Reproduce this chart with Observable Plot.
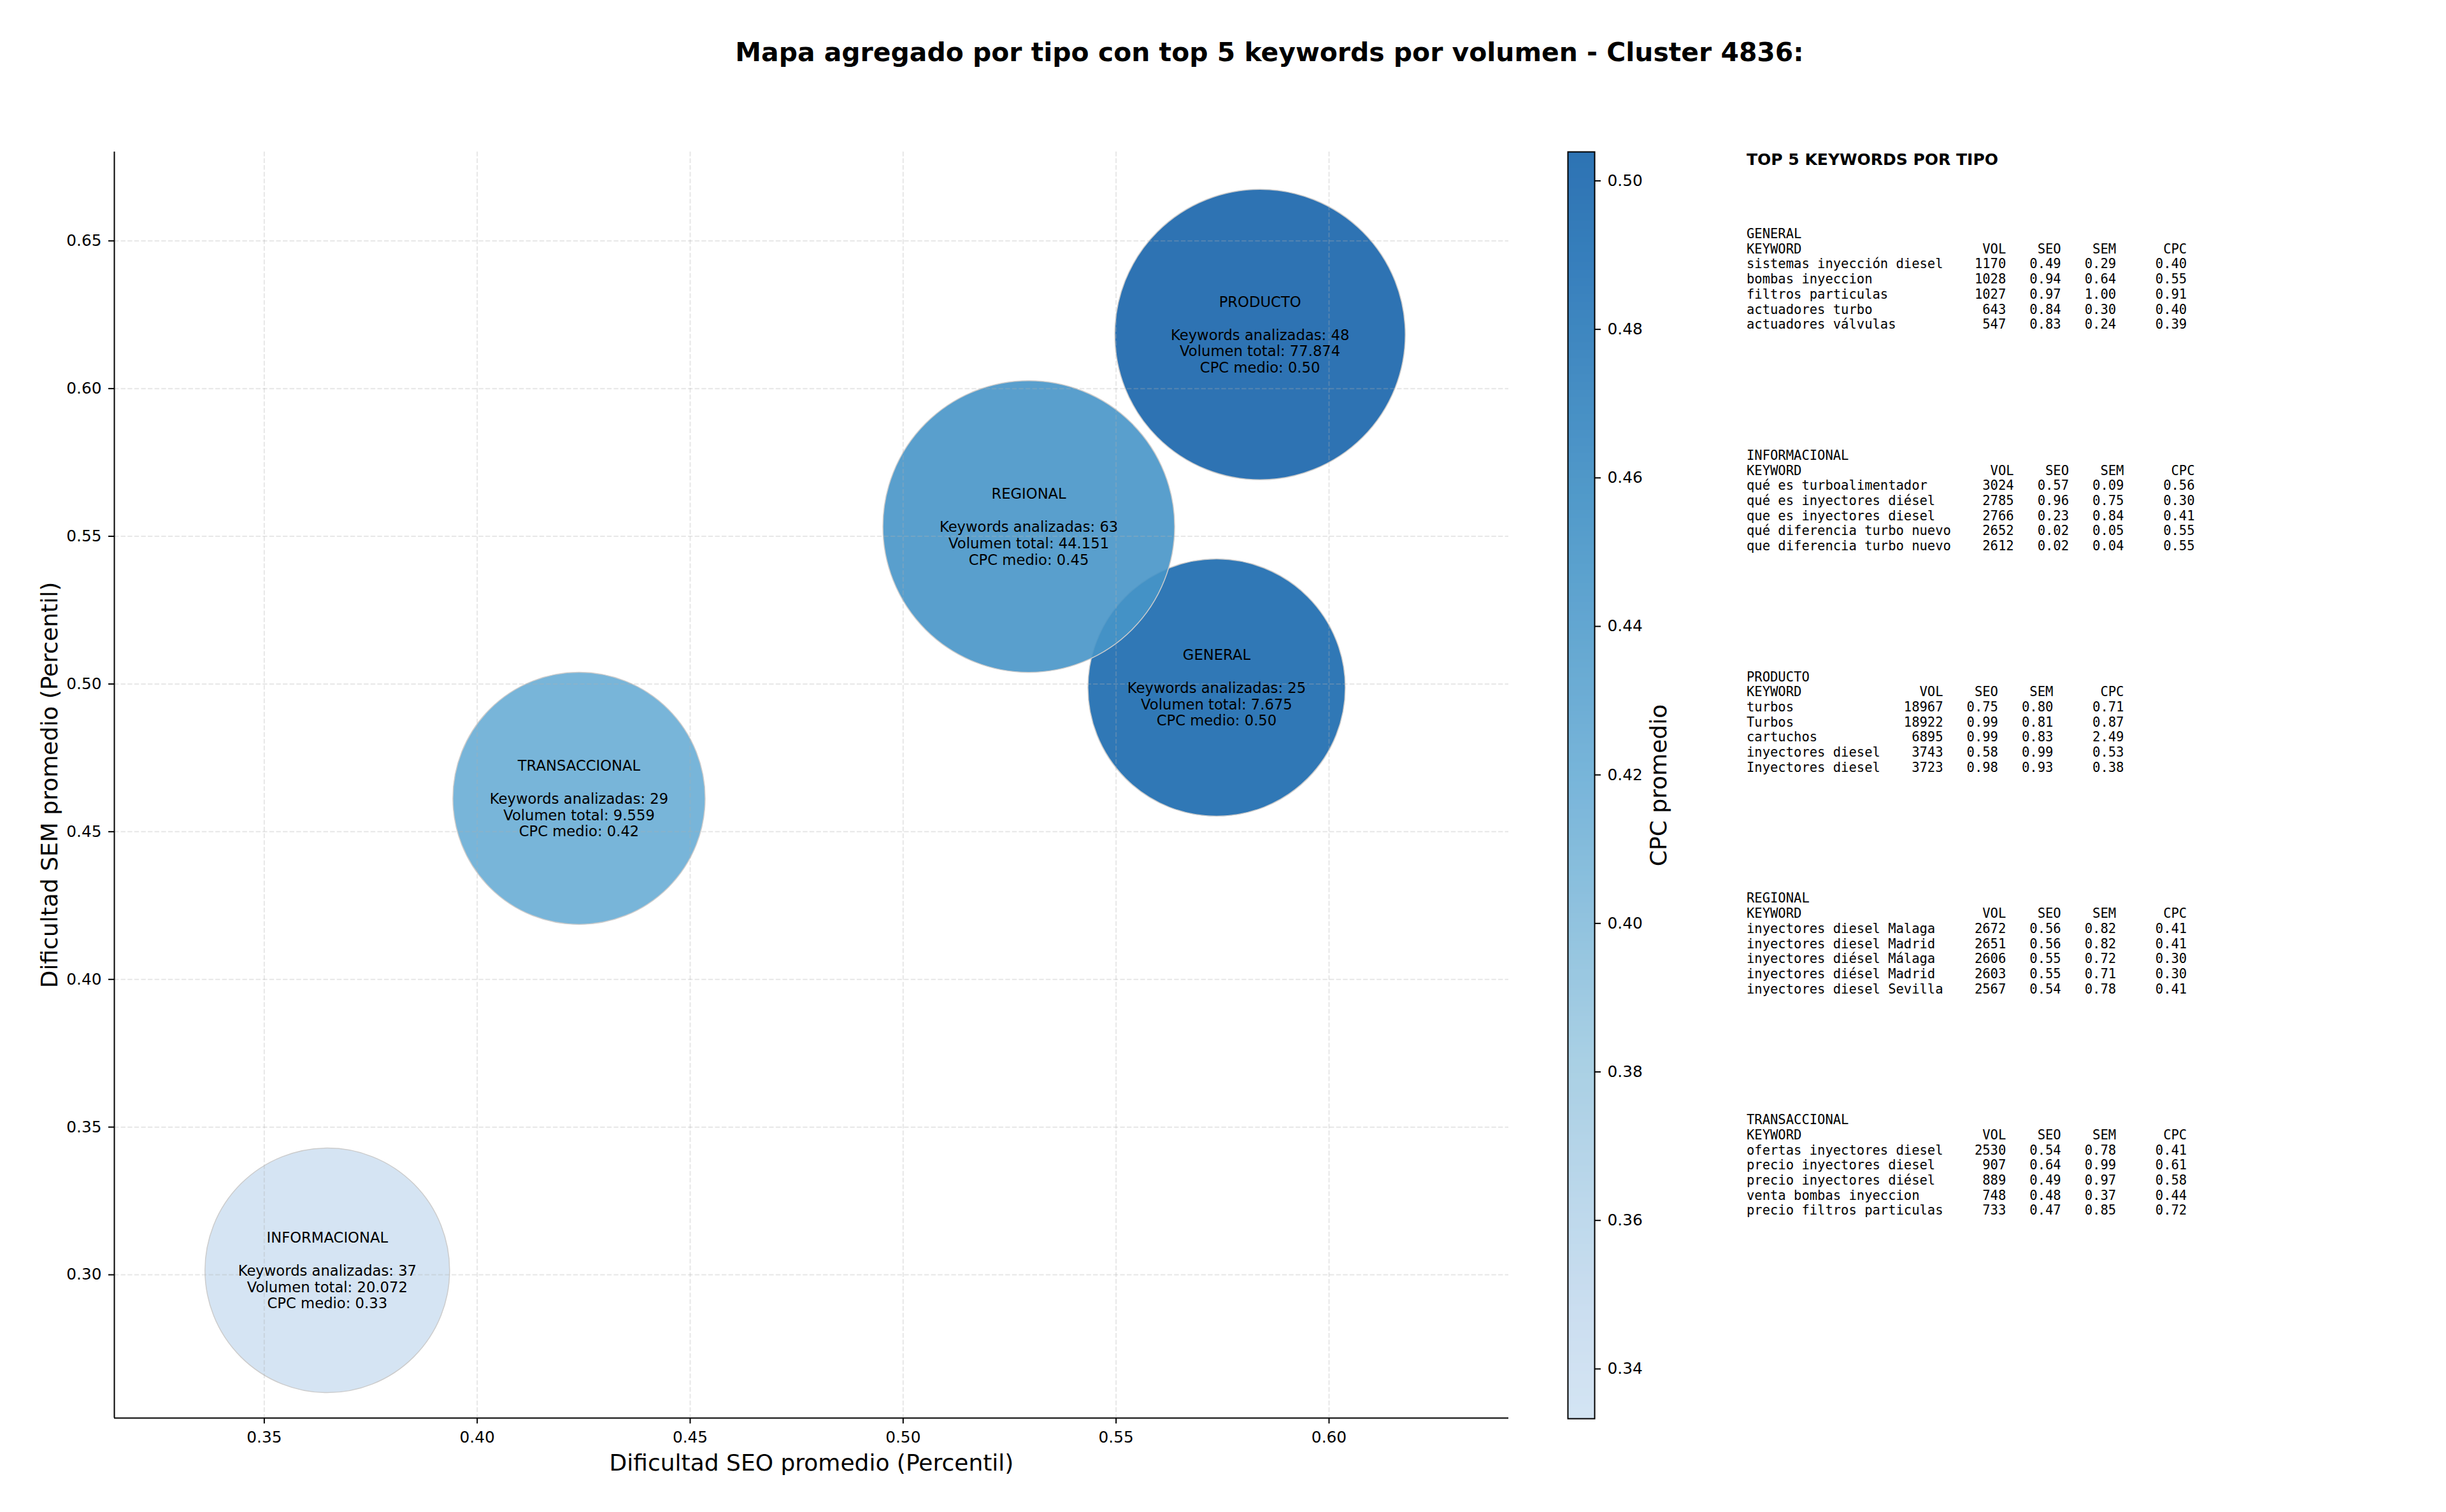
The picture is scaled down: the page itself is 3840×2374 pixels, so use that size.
<!DOCTYPE html>
<html>
<head>
<meta charset="utf-8">
<script src="https://cdn.jsdelivr.net/npm/d3@7"></script>
<script src="https://cdn.jsdelivr.net/npm/@observablehq/plot@0.6"></script>
<style>
  html, body { margin: 0; padding: 0; background: #ffffff; }
  #fig { position: relative; width: 3840px; height: 2374px; overflow: hidden; font-family: "DejaVu Sans", sans-serif; color: #000; }
  .abs { position: absolute; }
  #title { top: 62px; left: 1993px; transform: translateX(-50%); font-weight: bold; font-size: 40.9px; line-height: 40.9px; white-space: nowrap; }
  #panelTitle { left: 2742px; top: 238px; font-weight: bold; font-size: 25px; line-height: 25px; white-space: nowrap; }
  .block { left: 2742px; font-family: "DejaVu Sans Mono", monospace; font-size: 20.5px; line-height: 23.7px; white-space: pre; }
</style>
</head>
<body>
<div id="fig">
  <div id="title" class="abs">Mapa agregado por tipo con top 5 keywords por volumen - Cluster 4836:</div>
  <div id="main" class="abs" style="left:0;top:0"></div>
  <div id="cbar" class="abs" style="left:2451px;top:0"></div>
  <div id="panelTitle" class="abs">TOP 5 KEYWORDS POR TIPO</div>
  <div id="panel"></div>
</div>
<script>
// ---------- Aggregated data per type ----------
const tipos = ["GENERAL", "INFORMACIONAL", "PRODUCTO", "REGIONAL", "TRANSACCIONAL"];
const seoMedio = [0.5736, 0.3648, 0.5838, 0.5295, 0.4239];
const semMedio = [0.4988, 0.3015, 0.6183, 0.5533, 0.4613];
const keywordsAnalizadas = [25, 37, 48, 63, 29];
const volumenTotal = [7675, 20072, 77874, 44151, 9559];
const cpcMedio = [0.499, 0.3333, 0.5039, 0.45, 0.42];

// ---------- Tick labels ----------
const xTicks = [0.35, 0.40, 0.45, 0.50, 0.55, 0.60];
const yTicks = [0.30, 0.35, 0.40, 0.45, 0.50, 0.55, 0.60, 0.65];
const cTicks = [0.34, 0.36, 0.38, 0.40, 0.42, 0.44, 0.46, 0.48, 0.50];

// ---------- Top 5 keywords per type: [keyword, VOL, SEO, SEM, CPC] ----------
const topGeneral = [
  ["sistemas inyección diesel", 1170, 0.49, 0.29, 0.40],
  ["bombas inyeccion", 1028, 0.94, 0.64, 0.55],
  ["filtros particulas", 1027, 0.97, 1.00, 0.91],
  ["actuadores turbo", 643, 0.84, 0.30, 0.40],
  ["actuadores válvulas", 547, 0.83, 0.24, 0.39]
];
const topInformacional = [
  ["qué es turboalimentador", 3024, 0.57, 0.09, 0.56],
  ["qué es inyectores diésel", 2785, 0.96, 0.75, 0.30],
  ["que es inyectores diesel", 2766, 0.23, 0.84, 0.41],
  ["qué diferencia turbo nuevo", 2652, 0.02, 0.05, 0.55],
  ["que diferencia turbo nuevo", 2612, 0.02, 0.04, 0.55]
];
const topProducto = [
  ["turbos", 18967, 0.75, 0.80, 0.71],
  ["Turbos", 18922, 0.99, 0.81, 0.87],
  ["cartuchos", 6895, 0.99, 0.83, 2.49],
  ["inyectores diesel", 3743, 0.58, 0.99, 0.53],
  ["Inyectores diesel", 3723, 0.98, 0.93, 0.38]
];
const topRegional = [
  ["inyectores diesel Malaga", 2672, 0.56, 0.82, 0.41],
  ["inyectores diesel Madrid", 2651, 0.56, 0.82, 0.41],
  ["inyectores diésel Málaga", 2606, 0.55, 0.72, 0.30],
  ["inyectores diésel Madrid", 2603, 0.55, 0.71, 0.30],
  ["inyectores diesel Sevilla", 2567, 0.54, 0.78, 0.41]
];
const topTransaccional = [
  ["ofertas inyectores diesel", 2530, 0.54, 0.78, 0.41],
  ["precio inyectores diesel", 907, 0.64, 0.99, 0.61],
  ["precio inyectores diésel", 889, 0.49, 0.97, 0.58],
  ["venta bombas inyeccion", 748, 0.48, 0.37, 0.44],
  ["precio filtros particulas", 733, 0.47, 0.85, 0.72]
];

// ---------- Styles (not data) ----------
const bubbleRadius = { GENERAL: 202, INFORMACIONAL: 192, PRODUCTO: 228, REGIONAL: 229, TRANSACCIONAL: 198 };
const TICK_FS = 24.8, LABEL_FS = 36, BUBBLE_FS = 22.7;

// ---------- Build table ----------
const rows = tipos.map((t, i) => ({
  tipo: t, seo: seoMedio[i], sem: semMedio[i], n: keywordsAnalizadas[i], vol: volumenTotal[i], cpc: cpcMedio[i]
}));
const esFmt = d3.formatLocale({ decimal: ",", thousands: ".", grouping: [3], currency: ["", " €"] }).format(",d");

const xDomain = [d3.min(seoMedio) - 0.05, d3.max(seoMedio) * 1.1];
const yDomain = [d3.min(semMedio) - 0.05, d3.max(semMedio) * 1.1];
const cDomain = d3.extent(cpcMedio);

const mplBlues = d3.piecewise(d3.interpolateRgb, ["#f7fbff", "#deebf7", "#c6dbef", "#9ecae1", "#6baed6", "#4292c6", "#2171b5", "#08519c", "#08306b"]);
const colorScale = { type: "linear", domain: cDomain, interpolate: t => mplBlues(0.2 + 0.6 * t) };

const gridStyle = { stroke: "#b0b0b0", strokeOpacity: 0.3, strokeWidth: 2, strokeDasharray: "7.4,3.2" };

const main = Plot.plot({
  width: 2420, height: 2374,
  marginLeft: 179, marginRight: 52, marginTop: 238, marginBottom: 148,
  x: { domain: xDomain },
  y: { domain: yDomain },
  r: { type: "identity" },
  color: colorScale,
  style: { fontFamily: "DejaVu Sans", fontSize: TICK_FS + "px", background: "transparent", color: "black" },
  marks: [
    Plot.dot(rows, {
      x: "seo", y: "sem", r: d => bubbleRadius[d.tipo], fill: "cpc", fillOpacity: 0.9,
      stroke: "#cccccc", strokeWidth: 1.5, sort: null
    }),
    Plot.gridX(xTicks, gridStyle),
    Plot.gridY(yTicks, gridStyle),
    Plot.ruleX([xDomain[0]], { stroke: "black", strokeWidth: 2 }),
    Plot.ruleY([yDomain[0]], { stroke: "black", strokeWidth: 2 }),
    Plot.axisX({ ticks: xTicks, tickFormat: ".2f", tickSize: 9, tickPadding: 12, fontSize: TICK_FS, strokeWidth: 2, label: null }),
    Plot.axisY({ ticks: yTicks, tickFormat: ".2f", tickSize: 9, tickPadding: 11, fontSize: TICK_FS, strokeWidth: 2, label: null }),
    Plot.text(rows, {
      x: "seo", y: "sem",
      text: d => `${d.tipo}\n\nKeywords analizadas: ${d.n}\nVolumen total: ${esFmt(d.vol)}\nCPC medio: ${d.cpc.toFixed(2)}`,
      fontSize: BUBBLE_FS, lineHeight: 1.137, fill: "black", textAnchor: "middle", lineAnchor: "middle"
    }),
    Plot.text(["Dificultad SEO promedio (Percentil)"], { frameAnchor: "bottom", dy: 71, fontSize: LABEL_FS, fill: "black", textAnchor: "middle", lineAnchor: "middle" }),
    Plot.text(["Dificultad SEM promedio (Percentil)"], { frameAnchor: "left", dx: -101, rotate: -90, fontSize: LABEL_FS, fill: "black", textAnchor: "middle", lineAnchor: "middle" })
  ]
});
document.getElementById("main").appendChild(main);

const cbar = Plot.plot({
  width: 302, height: 2374,
  marginLeft: 10, marginRight: 250, marginTop: 238, marginBottom: 147,
  x: { domain: [0, 1], axis: null },
  y: { domain: cDomain },
  color: colorScale,
  style: { fontFamily: "DejaVu Sans", fontSize: TICK_FS + "px", background: "transparent", color: "black" },
  marks: [
    Plot.raster({ x1: 0, x2: 1, y1: cDomain[0], y2: cDomain[1], fill: (x, y) => y, opacity: 0.9 }),
    Plot.frame({ stroke: "black", strokeWidth: 2 }),
    Plot.axisY({ anchor: "right", ticks: cTicks, tickFormat: ".2f", tickSize: 9, tickPadding: 11, fontSize: TICK_FS, strokeWidth: 2, label: null }),
    Plot.text(["CPC promedio"], { frameAnchor: "right", dx: 101, rotate: -90, fontSize: LABEL_FS, fill: "black", textAnchor: "middle", lineAnchor: "middle" })
  ]
});
document.getElementById("cbar").appendChild(cbar);

// ---------- Text panel ----------
const blocks = [
  ["GENERAL", topGeneral],
  ["INFORMACIONAL", topInformacional],
  ["PRODUCTO", topProducto],
  ["REGIONAL", topRegional],
  ["TRANSACCIONAL", topTransaccional]
];
const panel = document.getElementById("panel");
blocks.forEach(([name, list], i) => {
  const w = d3.max(list, r => r[0].length);
  const lines = [
    name,
    "KEYWORD".padEnd(w) + "VOL".padStart(8) + "SEO".padStart(7) + "SEM".padStart(7) + "CPC".padStart(9),
    ...list.map(r => r[0].padEnd(w) + String(r[1]).padStart(8) + r[2].toFixed(2).padStart(7) + r[3].toFixed(2).padStart(7) + r[4].toFixed(2).padStart(9))
  ];
  const div = document.createElement("div");
  div.className = "abs block";
  div.style.top = (356 + i * 347.8) + "px";
  div.textContent = lines.join("\n");
  panel.appendChild(div);
});
</script>
</body>
</html>
